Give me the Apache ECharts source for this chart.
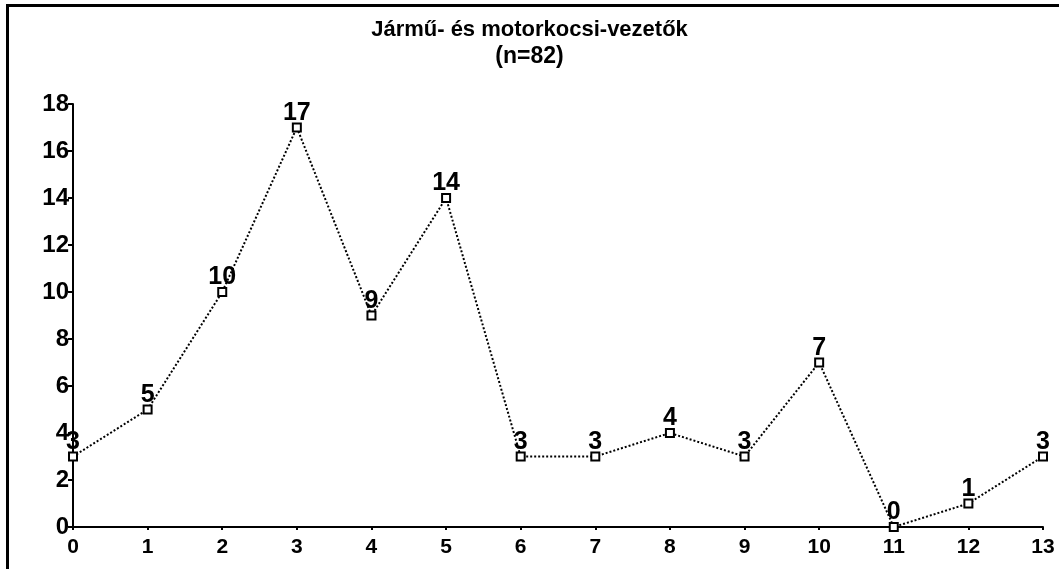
<!DOCTYPE html>
<html>
<head>
<meta charset="UTF-8">
<script src="https://cdn.jsdelivr.net/npm/echarts@6/dist/echarts.min.js"></script>
<title></title>
<style>
	html, body { margin: 0; padding: 0; background: #fff; }
	#frame { position: absolute; left: 6px; top: 4px; width: 1060px; height: 580px;
		border-top: 3px solid #000; border-left: 3px solid #000; }
	#main { position: absolute; left: 0; top: 0; width: 1059px; height: 569px; }
</style>
</head>
<body>
	<div id="frame"></div>
	<div id="main"></div>
<script>
	// values
	var xValues = [0, 1, 2, 3, 4, 5, 6, 7, 8, 9, 10, 11, 12, 13];
	var counts = [3, 5, 10, 17, 9, 14, 3, 3, 4, 3, 7, 0, 1, 3];
	var titleText = 'Jármű- és motorkocsi-vezetők';
	var subText = '(n=82)';

	var points = [];
	for (var i = 0; i < xValues.length; i++) {
		points.push([xValues[i], counts[i]]);
	}

	var font = '"Liberation Sans", Arial, sans-serif';
	var myChart = echarts.init(document.getElementById('main'));

	myChart.setOption({
		animation: false,
		title: {
			text: titleText,
			subtext: subText,
			left: 'center',
			top: 14,
			itemGap: 4,
			textStyle: { fontFamily: font, fontSize: 22, fontWeight: 'bold', color: '#000' },
			subtextStyle: { fontFamily: font, fontSize: 23, fontWeight: 'bold', color: '#000' }
		},
		grid: { left: 73, right: 16, top: 104, bottom: 42 },
		xAxis: {
			type: 'value',
			min: 0,
			max: 13,
			interval: 1,
			axisLine: { lineStyle: { color: '#000', width: 2 } },
			axisTick: { show: true, length: 3, lineStyle: { color: '#000', width: 2 } },
			axisLabel: { color: '#000', fontFamily: font, fontSize: 21, fontWeight: 'bold', margin: 10 },
			splitLine: { show: false }
		},
		yAxis: {
			type: 'value',
			min: 0,
			max: 18,
			interval: 2,
			axisLine: { show: true, lineStyle: { color: '#000', width: 2 } },
			axisTick: { show: true, length: 5, lineStyle: { color: '#000', width: 2 } },
			axisLabel: { color: '#000', fontFamily: font, fontSize: 24, fontWeight: 'bold', margin: 4 },
			splitLine: { show: false }
		},
		series: [{
			type: 'line',
			data: points,
			symbol: 'rect',
			symbolSize: 8,
			itemStyle: { color: '#fff', borderColor: '#000', borderWidth: 2 },
			lineStyle: { color: '#000', width: 2, type: 'dotted' },
			label: {
				show: true,
				position: 'top',
				distance: -3,
				color: '#000',
				fontFamily: font,
				fontSize: 25,
				fontWeight: 'bold'
			}
		}]
	});
</script>
</body>
</html>
